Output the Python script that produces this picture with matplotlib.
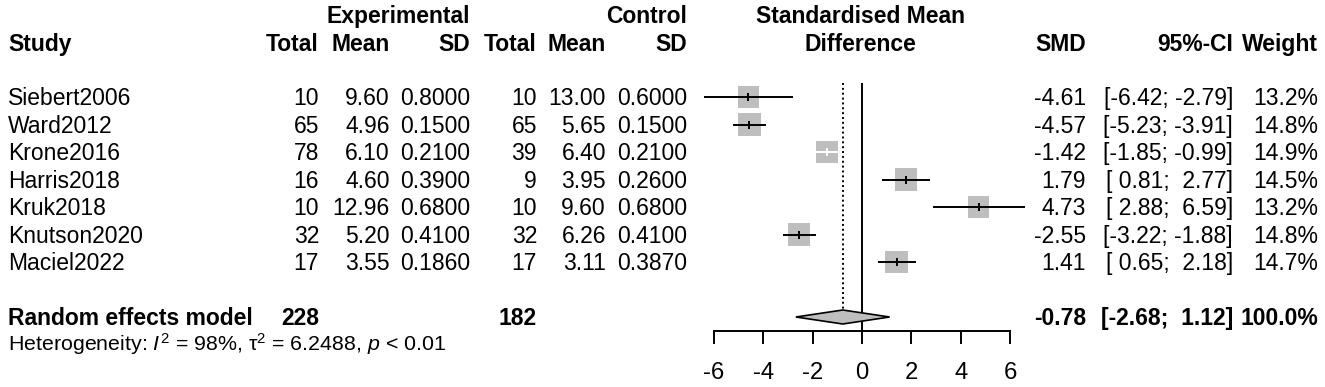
import matplotlib
matplotlib.use('Agg')
import matplotlib.pyplot as plt
import numpy as np
from matplotlib.patches import Polygon

plt.rcParams['font.family'] = ['Liberation Sans', 'DejaVu Sans']
plt.rcParams['axes.unicode_minus'] = False
plt.rcParams['mathtext.fontset'] = 'custom'
plt.rcParams['mathtext.rm'] = 'Liberation Sans'
plt.rcParams['mathtext.it'] = 'Liberation Sans:italic'
plt.rcParams['mathtext.bf'] = 'Liberation Sans:bold'

# ---------------- data ----------------
studies = ['Siebert2006', 'Ward2012', 'Krone2016', 'Harris2018', 'Kruk2018',
           'Knutson2020', 'Maciel2022']
exp_total = [10, 65, 78, 16, 10, 32, 17]
exp_mean = [9.60, 4.96, 6.10, 4.60, 12.96, 5.20, 3.55]
exp_sd = [0.8000, 0.1500, 0.2100, 0.3900, 0.6800, 0.4100, 0.1860]
ctl_total = [10, 65, 39, 9, 10, 32, 17]
ctl_mean = [13.00, 5.65, 6.40, 3.95, 9.60, 6.26, 3.11]
ctl_sd = [0.6000, 0.1500, 0.2100, 0.2600, 0.6800, 0.4100, 0.3870]
smd = [-4.61, -4.57, -1.42, 1.79, 4.73, -2.55, 1.41]
ci_lo = [-6.42, -5.23, -1.85, 0.81, 2.88, -3.22, 0.65]
ci_hi = [-2.79, -3.91, -0.99, 2.77, 6.59, -1.88, 2.18]
weight = [13.2, 14.8, 14.9, 14.5, 13.2, 14.8, 14.7]

pooled_label = 'Random effects model'
pooled_exp_total = 228
pooled_ctl_total = 182
pooled_smd = -0.78
pooled_lo = -2.68
pooled_hi = 1.12
pooled_weight = 100.0
het_text = 'Heterogeneity: $\\mathit{I}^2$ = 98%, τ$^2$ = 6.2488, $\\mathit{p}$ < 0.01'

xticks = [-6, -4, -2, 0, 2, 4, 6]

# ---------------- layout ----------------
W, H = 1325, 387
fig = plt.figure(figsize=(W / 100, H / 100), dpi=100)
FS = 16.5
GREY = '#BEBEBE'

row0 = 97.0      # pixel y of first study row
dy = 27.5        # row spacing (px)
base_off = 8.2   # centre -> baseline offset (px)

def fx(x):
    return x / W

def fy(y):
    return 1 - y / H

def txt(x, y, s, ha='right', bold=False, size=FS):
    fig.text(fx(x), fy(y + base_off), s, ha=ha, va='baseline', fontsize=size,
             fontweight='bold' if bold else 'normal', color='black')

# column right edges (px)
c_study = 8
c_et, c_em, c_es = 319, 390, 470
c_ct, c_cm, c_cs = 537, 606, 687
c_smd, c_ci, c_w = 1086, 1233, 1318
c_mid = 860

h1, h2 = 15, 43
# headers
txt(c_es, h1, 'Experimental', bold=True)
txt(c_cs, h1, 'Control', bold=True)
txt(c_mid, h1, 'Standardised Mean', ha='center', bold=True)
txt(c_study, h2, 'Study', ha='left', bold=True)
for x, s in [(c_et, 'Total'), (c_em, 'Mean'), (c_es, 'SD'),
             (c_ct, 'Total'), (c_cm, 'Mean'), (c_cs, 'SD'),
             (c_smd, 'SMD'), (c_ci, '95%-CI'), (c_w, 'Weight')]:
    txt(x, h2, s, bold=True)
txt(c_mid, h2, 'Difference', ha='center', bold=True)

# study rows
for i, name in enumerate(studies):
    y = row0 + dy * i
    txt(c_study, y, name, ha='left')
    txt(c_et, y, f'{exp_total[i]}')
    txt(c_em, y, f'{exp_mean[i]:.2f}')
    txt(c_es, y, f'{exp_sd[i]:.4f}')
    txt(c_ct, y, f'{ctl_total[i]}')
    txt(c_cm, y, f'{ctl_mean[i]:.2f}')
    txt(c_cs, y, f'{ctl_sd[i]:.4f}')
    txt(c_smd, y, f'{smd[i]:.2f}')
    txt(c_ci, y, f'[{ci_lo[i]:5.2f}; {ci_hi[i]:5.2f}]')
    txt(c_w, y, f'{weight[i]:.1f}%')

pooled_row = len(studies) + 1
yp = row0 + dy * pooled_row
txt(c_study, yp, pooled_label, ha='left', bold=True)
txt(c_et, yp, f'{pooled_exp_total}', bold=True)
txt(c_ct, yp, f'{pooled_ctl_total}', bold=True)
txt(c_smd, yp, f'{pooled_smd:.2f}', bold=True)
txt(c_ci, yp, f'[{pooled_lo:5.2f}; {pooled_hi:5.2f}]', bold=True)
txt(c_w, yp, f'{pooled_weight:.1f}%', bold=True)

txt(c_study, 343, het_text, ha='left', size=15.4)

# ---------------- forest axes ----------------
ax_left, ax_right = 714, 1010
ax_top, ax_bot = 83, 331
ax = fig.add_axes([fx(ax_left), fy(ax_bot), (ax_right - ax_left) / W,
                   (ax_bot - ax_top) / H])
ax.set_xlim(xticks[0], xticks[-1])
ax.set_ylim((ax_bot - row0) / dy, (ax_top - row0) / dy)
ax.patch.set_visible(False)
for s in ['top', 'left', 'right']:
    ax.spines[s].set_visible(False)
ax.spines['bottom'].set_linewidth(1.4)
ax.set_yticks([])
ax.set_xticks(xticks)
ax.set_xticklabels([str(t) for t in xticks])
ax.tick_params(axis='x', direction='out', length=9.5, width=1.4, pad=12.5,
               labelsize=17.2)

px_per_unit = (ax_right - ax_left) / (xticks[-1] - xticks[0])
px_per_row = dy

rows = np.arange(len(studies))
wmax = max(weight)
side_px = 22.8 * np.sqrt(np.array(weight) / wmax)
side_pt = side_px * 72 / 100

ax.axvline(0, color='black', lw=1.4, zorder=1)
diamond_half = 7.0 / px_per_row
ax.plot([pooled_smd, pooled_smd], [(ax_top - row0) / dy, pooled_row - diamond_half],
        color='black', lw=1.4, linestyle=(0, (1, 1.5)), zorder=1)

ax.scatter(smd, rows, marker='s', s=side_pt ** 2, color=GREY, linewidths=0,
           zorder=2, clip_on=False)
tick_half = 4.0 / px_per_row
for i in rows:
    inside = (ci_hi[i] - ci_lo[i]) * px_per_unit < side_px[i]
    col = 'white' if inside else 'black'
    ax.plot([ci_lo[i], ci_hi[i]], [i, i], color=col, lw=1.4, zorder=3,
            clip_on=False, solid_capstyle='butt')
    ax.plot([smd[i], smd[i]], [i - tick_half, i + tick_half], color=col, lw=1.4,
            zorder=3, clip_on=False, solid_capstyle='butt')

diamond = Polygon([(pooled_lo, pooled_row), (pooled_smd, pooled_row - diamond_half),
                   (pooled_hi, pooled_row), (pooled_smd, pooled_row + diamond_half)],
                  closed=True, facecolor=GREY, edgecolor='black', lw=1.2, zorder=3,
                  clip_on=False)
ax.add_patch(diamond)

fig.savefig('out.png', dpi=100)
